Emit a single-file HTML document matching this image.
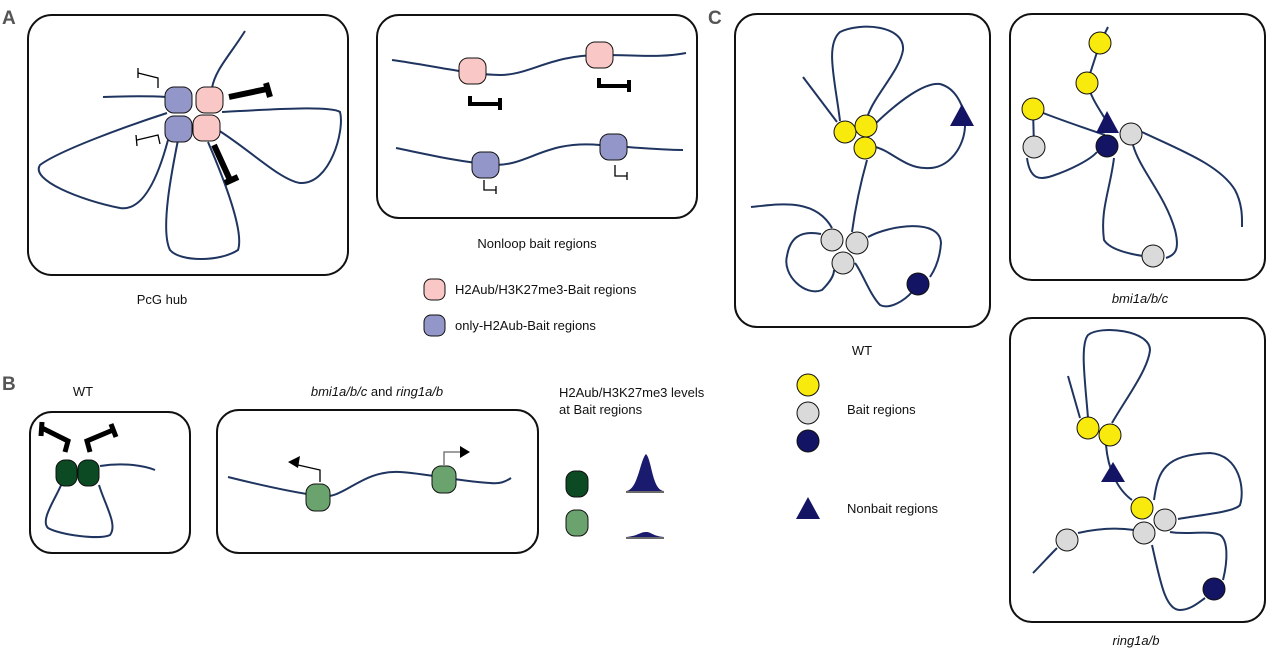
<!DOCTYPE html>
<html><head><meta charset="utf-8"><style>
body{margin:0;background:#fff}
svg{display:block}
text{font-family:"Liberation Sans",sans-serif;font-size:13px;fill:#111}
.l{fill:none;stroke:#1f3560;stroke-width:2}
.b{fill:none;stroke:#111;stroke-width:2}
.pk{fill:#f9c7c6;stroke:#111;stroke-width:1}
.pu{fill:#9396c8;stroke:#111;stroke-width:1}
.dg{fill:#0b4a22;stroke:#111;stroke-width:1}
.lg{fill:#6ba36f;stroke:#111;stroke-width:1}
.y{fill:#f7ea0c;stroke:#111;stroke-width:1}
.g{fill:#dadada;stroke:#111;stroke-width:1}
.n{fill:#141464;stroke:#111;stroke-width:1}
.t{fill:none;stroke:#000;stroke-width:6}
.tt{fill:none;stroke:#000;stroke-width:1.3}
</style></head><body>
<svg width="1268" height="654" viewBox="0 0 1268 654">
<text x="2" y="24" style="font-size:19px;font-weight:bold;fill:#555">A</text>
<text x="2" y="390" style="font-size:19px;font-weight:bold;fill:#555">B</text>
<text x="708" y="24" style="font-size:19px;font-weight:bold;fill:#555">C</text>

<!-- A1 -->
<rect class="b" x="28" y="15" width="320" height="260" rx="24"/>
<path class="l" d="M245 31 C230 55 215 70 212 88"/>
<path class="l" d="M103 97 C130 96 150 96 167 97"/>
<path class="l" d="M167 113 C130 125 60 150 40 165 C30 180 80 200 120 208 C145 212 160 170 168 140"/>
<path class="l" d="M178 140 C172 170 160 230 170 250 C180 262 220 262 238 250 C245 230 220 170 208 142"/>
<path class="l" d="M218 130 C250 150 280 180 300 183 C330 185 345 130 340 112 C330 105 260 110 222 112"/>
<rect class="pu" x="165" y="87" width="27" height="26" rx="9"/>
<rect class="pk" x="196" y="87" width="27" height="26" rx="9"/>
<rect class="pu" x="165" y="116" width="27" height="26" rx="9"/>
<rect class="pk" x="193" y="115" width="27" height="26" rx="9"/>
<path class="tt" d="M158 88 L158 78 L138 73 M138 68 L138 78"/>
<path class="tt" d="M160 144 L158 135 L137 140 M136 135 L137 146"/>
<path class="t" d="M229 97 L267 89 M266 83 L270 97"/>
<path class="t" d="M214 145 L230 180 M225 183 L238 177"/>
<text x="162" y="304" text-anchor="middle">PcG hub</text>

<!-- A2 -->
<rect class="b" x="377" y="15" width="320" height="203" rx="22"/>
<path class="l" d="M392 60 C430 65 470 75 500 75 C530 75 550 55 600 55 C640 55 660 58 686 53"/>
<path class="l" d="M396 148 C430 155 460 162 495 165 C530 165 545 140 600 145 C640 148 660 150 683 150"/>
<rect class="pk" x="459" y="58" width="27" height="26" rx="9"/>
<rect class="pk" x="586" y="42" width="27" height="26" rx="9"/>
<rect class="pu" x="472" y="152" width="27" height="26" rx="9"/>
<rect class="pu" x="600" y="134" width="27" height="26" rx="9"/>
<path class="t" d="M470 96 L470 104 L500 104 M500 98 L500 110" style="stroke-width:4"/>
<path class="t" d="M599 78 L599 86 L629 86 M629 80 L629 92" style="stroke-width:4"/>
<path class="tt" d="M484 180 L484 190 L496 190 M496 186 L496 194"/>
<path class="tt" d="M615 165 L615 176 L627 176 M627 172 L627 180"/>
<text x="537" y="248" text-anchor="middle">Nonloop bait regions</text>

<!-- legend A -->
<rect class="pk" x="424" y="279" width="21" height="21" rx="7"/>
<text x="455" y="294">H2Aub/H3K27me3-Bait regions</text>
<rect class="pu" x="424" y="315" width="21" height="21" rx="7"/>
<text x="455" y="330">only-H2Aub-Bait regions</text>

<!-- B1 -->
<text x="83" y="396" text-anchor="middle">WT</text>
<rect class="b" x="30" y="412" width="160" height="141" rx="22"/>
<path class="l" d="M62 483 C55 500 40 520 48 528 C60 535 100 540 110 535 C118 525 105 505 99 485"/>
<path class="l" d="M100 466 C125 462 145 466 155 470"/>
<rect class="dg" x="56" y="460" width="21" height="26" rx="9"/>
<rect class="dg" x="78" y="460" width="21" height="26" rx="9"/>
<path class="t" d="M42 428 L68 441 L65 452" style="stroke-width:5"/>
<path class="t" d="M42 422 L41 436" style="stroke-width:5"/>
<path class="t" d="M90 452 L87 441 L113 430 M111 424 L116 437" style="stroke-width:5"/>

<!-- B2 -->
<text x="377" y="396" text-anchor="middle"><tspan font-style="italic">bmi1a/b/c</tspan> and <tspan font-style="italic">ring1a/b</tspan></text>
<rect class="b" x="217" y="410" width="321" height="143" rx="22"/>
<path class="l" d="M228 477 C260 485 290 492 320 496 C345 500 360 470 400 472 C430 474 450 480 490 483 C500 484 505 482 511 478"/>
<rect class="lg" x="306" y="484" width="24" height="27" rx="9"/>
<rect class="lg" x="432" y="466" width="24" height="27" rx="9"/>
<path class="tt" d="M320 482 L320 470 L298 465"/>
<polygon points="288,462 300,456 298,468" fill="#000"/>
<path class="tt" d="M444 465 L444 452 L464 452" style="stroke:#666"/>
<polygon points="470,452 460,446 460,458" fill="#000"/>

<!-- B legend -->
<text x="559" y="397">H2Aub/H3K27me3 levels</text>
<text x="559" y="414">at Bait regions</text>
<rect class="dg" x="566" y="471" width="22" height="26" rx="9"/>
<rect class="lg" x="566" y="510" width="22" height="26" rx="9"/>
<path d="M626 491 C638 490 640 460 646 454 C652 460 652 490 664 491 Z" fill="#1a1a6e"/>
<line x1="626" y1="492" x2="664" y2="492" stroke="#111" stroke-width="1.3"/>
<path d="M626 537 C638 536 640 532 646 532 C652 532 652 536 664 537 Z" fill="#1a1a6e"/>
<line x1="626" y1="538" x2="664" y2="538" stroke="#111" stroke-width="1.3"/>

<!-- C1 -->
<rect class="b" x="735" y="14" width="255" height="313" rx="22"/>
<path class="l" d="M840 121 C835 80 825 45 840 32 C860 22 905 25 903 50 C900 70 875 95 868 115"/>
<path class="l" d="M803 77 L837 122"/>
<path class="l" d="M875 124 C900 100 925 82 940 84 C955 88 965 105 965 125 C965 145 950 170 925 168 C905 168 890 150 875 147"/>
<path class="l" d="M867 160 C860 185 855 210 852 232"/>
<path class="l" d="M751 207 C780 204 815 198 832 228"/>
<path class="l" d="M821 234 C800 230 790 238 787 256 C782 275 805 297 822 290 C830 282 834 276 834 270"/>
<path class="l" d="M868 237 C890 225 940 218 941 243 C940 258 936 268 930 277"/>
<path class="l" d="M912 292 C905 300 890 310 880 305 C870 295 862 272 855 263"/>
<circle class="y" cx="845" cy="132" r="11"/>
<circle class="y" cx="866" cy="126" r="11"/>
<circle class="y" cx="865" cy="148" r="11"/>
<circle class="g" cx="832" cy="240" r="11"/>
<circle class="g" cx="857" cy="243" r="11"/>
<circle class="g" cx="843" cy="263" r="11"/>
<circle class="n" cx="918" cy="284" r="11"/>
<polygon points="962,104 950,126 974,126" fill="#141464"/>
<text x="862" y="355" text-anchor="middle">WT</text>

<!-- C2 -->
<rect class="b" x="1010" y="14" width="255" height="266" rx="22"/>
<path class="l" d="M1108 27 L1100 43 L1087 83 C1092 100 1100 110 1107 122"/>
<path class="l" d="M1033 109 C1060 120 1085 128 1105 135"/>
<path class="l" d="M1033 109 L1034 147"/>
<path class="l" d="M1027 158 C1030 180 1040 180 1052 176 C1070 170 1090 160 1097 152"/>
<path class="l" d="M1114 158 C1110 190 1100 210 1104 240 C1110 250 1130 254 1143 256"/>
<path class="l" d="M1166 258 C1175 255 1180 250 1175 230 C1165 195 1140 170 1133 145"/>
<path class="l" d="M1142 132 C1180 150 1220 165 1235 190 C1243 205 1242 220 1242 227"/>
<circle class="y" cx="1100" cy="43" r="11"/>
<circle class="y" cx="1087" cy="83" r="11"/>
<circle class="y" cx="1033" cy="109" r="11"/>
<circle class="g" cx="1034" cy="147" r="11"/>
<circle class="g" cx="1131" cy="134" r="11"/>
<circle class="g" cx="1153" cy="256" r="11"/>
<polygon points="1107,111 1096,133 1119,133" fill="#141464"/>
<circle class="n" cx="1107" cy="146" r="11"/>
<text x="1140" y="303" text-anchor="middle" font-style="italic">bmi1a/b/c</text>

<!-- C3 -->
<rect class="b" x="1010" y="318" width="255" height="304" rx="22"/>
<path class="l" d="M1068 376 L1080 418"/>
<path class="l" d="M1088 418 C1085 380 1080 345 1088 335 C1100 325 1150 330 1150 350 C1148 370 1125 400 1112 423"/>
<path class="l" d="M1106 445 C1108 470 1118 490 1132 500"/>
<path class="l" d="M1154 500 C1158 470 1165 455 1210 453 C1240 455 1245 490 1240 505 C1235 512 1200 515 1178 519"/>
<path class="l" d="M1033 573 C1040 566 1050 555 1057 548"/>
<path class="l" d="M1078 533 C1100 528 1120 528 1134 530"/>
<path class="l" d="M1152 545 C1160 580 1165 610 1180 610 C1190 610 1198 603 1205 598"/>
<path class="l" d="M1223 580 C1228 560 1228 540 1220 535 C1210 530 1185 535 1170 532"/>
<circle class="y" cx="1088" cy="428" r="11"/>
<circle class="y" cx="1110" cy="435" r="11"/>
<circle class="y" cx="1142" cy="508" r="11"/>
<circle class="g" cx="1165" cy="520" r="11"/>
<circle class="g" cx="1144" cy="533" r="11"/>
<circle class="g" cx="1067" cy="540" r="11"/>
<circle class="n" cx="1214" cy="589" r="11"/>
<polygon points="1113,462 1101,482 1125,482" fill="#141464"/>
<text x="1136" y="645" text-anchor="middle" font-style="italic">ring1a/b</text>

<!-- C legend -->
<circle class="y" cx="808" cy="385" r="11"/>
<circle class="g" cx="808" cy="413" r="11"/>
<circle class="n" cx="808" cy="441" r="11"/>
<text x="847" y="414">Bait regions</text>
<polygon points="808,497 796,519 820,519" fill="#141464"/>
<text x="847" y="513">Nonbait regions</text>
</svg>
</body></html>
